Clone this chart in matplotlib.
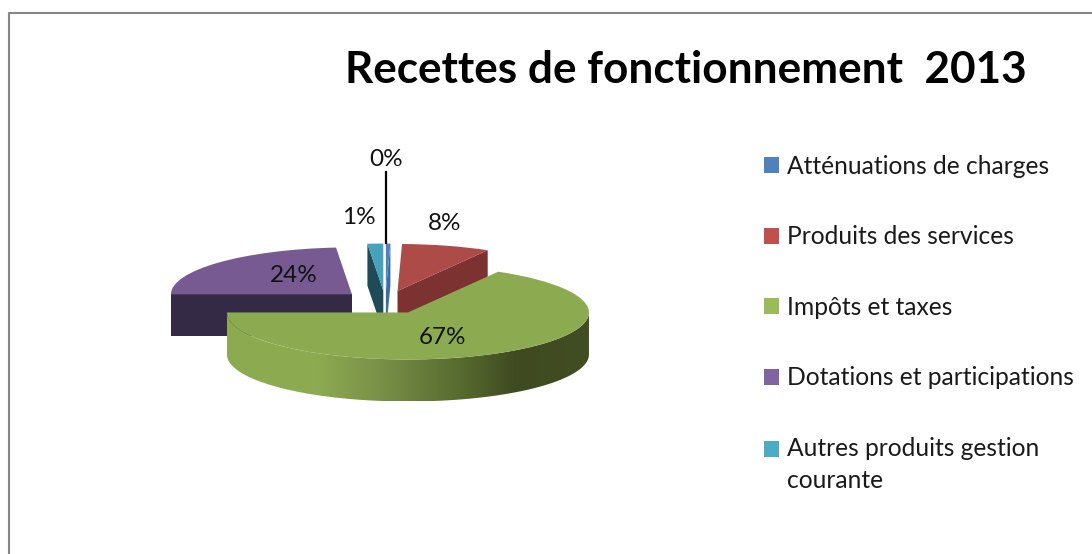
import numpy as np
import matplotlib
matplotlib.use('Agg')
import matplotlib.pyplot as plt
from matplotlib.colors import LinearSegmentedColormap
from matplotlib.patches import Polygon

plt.rcParams['font.family'] = ['Lato', 'DejaVu Sans']

titre = 'Recettes de fonctionnement  2013'
categories = ['Atténuations de charges', 'Produits des services', 'Impôts et taxes',
              'Dotations et participations', 'Autres produits gestion\ncourante']
valeurs = [0.4, 7.9, 66.7, 23.6, 1.4]

couleurs_legende = ['#4f81bd', '#c0504d', '#9bbb59', '#8064a2', '#4bacc6']
couleurs_dessus = ['#4f81bd', '#ad4b48', '#8cab50', '#775a92', '#46a2bb']
couleurs_cote = ['#3a6ea5', '#7b3230', '#3f4a20', '#352a45', '#1f4a58']
# which edge of each slice shows its cut face
faces = ['theta1', 'theta1', None, 'theta2', 'theta2']
eclate = [0.25] * 5

W, H = 1092, 554
CX, CY, RX, RY = 385.3, 302.3, 181, 47
EP = 42 / RY  # thickness of the pie, in pie units


def fx(x):
    return x / W


def fy(y):
    return 1 - y / H


def arc(c, t1, t2, dy=0.0):
    t = np.radians(np.linspace(t1, t2, 200))
    return np.column_stack([c[0] + np.cos(t), c[1] + np.sin(t) + dy])


fig = plt.figure(figsize=(W / 100, H / 100), dpi=100)
ax = fig.add_axes([0, 0, 1, 1])

#* Top of the pie
wedges, _ = ax.pie(valeurs, explode=eclate, colors=couleurs_dessus, startangle=90,
                   counterclock=False, radius=1)
ordre = [3, 4, 0, 1, 2]  # back to front
for z, i in enumerate(ordre):
    w = wedges[i]
    base = 10 + 3 * z
    w.set_zorder(base + 2)
    if faces[i]:
        t = getattr(w, faces[i])
        bord = arc(w.center, t, t)[0]
        pts = [w.center, bord, bord + [0, -EP], np.array(w.center) + [0, -EP]]
        ax.add_patch(Polygon(pts, closed=True, fc=couleurs_cote[i], ec='none', zorder=base))

#* Rim of the big slice, shaded left to right
g = wedges[2]
haut = arc(g.center, -180, 0)
bas = arc(g.center, 0, -180, dy=-EP)
contour = Polygon(np.vstack([haut, bas]), closed=True, fc='none', ec='none',
                  transform=ax.transData)
ax.add_patch(contour)
degrade = LinearSegmentedColormap.from_list('rim', [(0, '#8cab50'), (0.25, '#8cab50'),
                                                    (0.43, '#788f47'), (0.66, '#55682e'),
                                                    (0.8, '#3f4a20'), (1, '#414d22')])
x0, x1 = g.center[0] - 1, g.center[0] + 1
y0, y1 = g.center[1] - 1 - EP, g.center[1]
im = ax.imshow(np.linspace(0, 1, 256).reshape(1, -1), cmap=degrade, aspect='auto',
               extent=(x0, x1, y0, y1), zorder=23)
im.set_clip_path(contour)

ax.set_aspect('auto')
ax.set_xlim(-CX / RX, (W - CX) / RX)
ax.set_ylim((CY - H) / RY, CY / RY)
ax.axis('off')

#* Percent labels
pos_labels = [(386, 159), (445, 224), (443, 338), (294, 276), (359, 218)]
for v, (x, y) in zip(valeurs, pos_labels):
    fig.text(fx(x), fy(y), f'{v:.0f}%', ha='center', va='center', fontsize=17.5,
             color='#111111', zorder=40)

# leader line of the 0% slice
fig.add_artist(plt.Line2D([fx(386), fx(386)], [fy(172), fy(243)], color='black', lw=1.6))

#* Title and legend
fig.text(fx(686), fy(70), titre, ha='center', va='center', fontsize=31.8, fontweight='bold',
         color='black')

poignees = [plt.Rectangle((0, 0), 1, 1, fc=c, ec='none') for c in couleurs_legende]
leg = fig.legend(poignees, categories, loc='upper left', bbox_to_anchor=(fx(764), fy(155)),
                 borderaxespad=0, borderpad=0, frameon=False, fontsize=17.7,
                 handlelength=0.61, handleheight=0.61, handletextpad=0.33,
                 labelspacing=1.93, labelcolor='#1a1a1a')
for texte in leg.get_texts():
    texte.set_linespacing(1.5)
# the marker of the two line entry sits on its first line
leg.get_patches()[-1].set_y(leg.get_patches()[-1].get_y() + 12)

#* Chart frame, only top and left show in the crop
fig.add_artist(plt.Line2D([fx(8.5), fx(8.5), fx(W)], [fy(H), fy(12.5), fy(12.5)],
                          color='#868686', lw=1.5))

fig.savefig('out.png', dpi=100)
